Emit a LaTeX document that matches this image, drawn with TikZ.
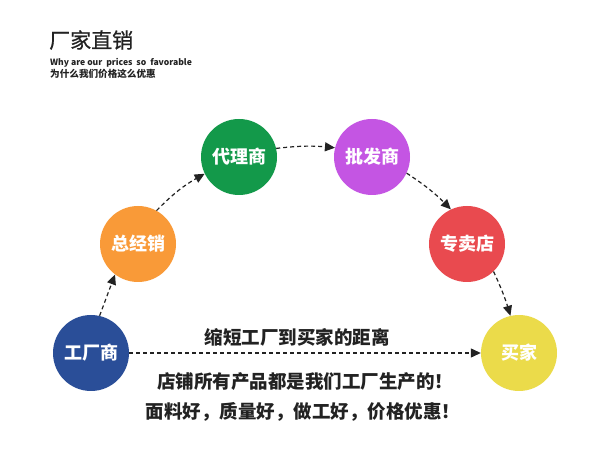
\documentclass[tikz,border=0pt]{standalone}
\usepackage{fontspec}
\usepackage{xcolor}
\usepackage{tikz}
\usetikzlibrary{positioning, arrows.meta, calc}
\setmainfont{Noto Sans CJK SC}
\newfontfamily\cjk{Noto Sans CJK SC}
\newfontfamily\cjktitle{Noto Sans CJK SC}[FakeBold=0.7]

\definecolor{factoryblue}{HTML}{2A4E98}
\definecolor{generalorange}{HTML}{F99A38}
\definecolor{agentgreen}{HTML}{13994A}
\definecolor{wholesalepurple}{HTML}{C455E3}
\definecolor{storered}{HTML}{E94A4F}
\definecolor{buyeryellow}{HTML}{EBDB4A}
\definecolor{inkgray}{HTML}{222222}

\begin{document}
\begin{tikzpicture}[
    x=1pt, y=-1pt,
    station/.style={circle, minimum size=76pt, inner sep=0pt, text=white, font=\cjk\bfseries\fontsize{18}{18}\selectfont},
    flow/.style={dashed, dash pattern=on 4pt off 3pt, line width=1.2pt, draw=inkgray, -{Triangle[length=10pt, width=9pt]}},
    slogan/.style={text=inkgray, font=\cjk\bfseries\fontsize{18.5}{19}\selectfont}
]
    \useasboundingbox[fill=white] (0,0) rectangle (600,454);

    % Heading
    \node[anchor=west, inner sep=0pt, text=inkgray, font=\cjktitle\fontsize{21}{22}\selectfont] (TITLE) at (49,40) {厂家直销};
    \node[anchor=west, inner sep=0pt, text=inkgray, font=\cjk\bfseries\fontsize{8.6}{9}\selectfont] (SUB_EN) at (50,63) {Why are our\ \ prices\ \ so\ \ favorable};
    \node[anchor=west, inner sep=0pt, text=inkgray, font=\cjk\bfseries\fontsize{9.6}{10}\selectfont] (SUB_CN) at (50,74) {为什么我们价格这么优惠};

    % Stations of the chain
    \node[station, fill=factoryblue] (FACTORY) at (91,353) {工厂商};
    \node[station, fill=generalorange] (GENERAL) at (138,244) {总经销};
    \node[station, fill=agentgreen] (AGENT) at (239,157) {代理商};
    \node[station, fill=wholesalepurple] (WHOLESALE) at (372,157) {批发商};
    \node[station, fill=storered] (STORE) at (467,244) {专卖店};
    \node[station, fill=buyeryellow] (BUYER) at (519,353) {买家};

    % Long way round
    \draw[flow] (FACTORY.77) -- (GENERAL.233);
    \draw[flow] (GENERAL.61) to[bend left=8] (AGENT.206);
    \draw[flow] (AGENT.13) to[bend left=6] (WHOLESALE.166);
    \draw[flow] (WHOLESALE.335) to[bend left=6] (STORE.115);
    \draw[flow] (STORE.314) to[bend left=4] (BUYER.103);

    % Direct way
    \draw[flow] (FACTORY) -- (BUYER);

    % Slogans
    \node[slogan] (SHORTEN) at (297,337) {缩短工厂到买家的距离};
    \node[slogan] (OWNMADE) at (305,382) {店铺所有产品都是我们工厂生产的！};
    \node[slogan] (QUALITY) at (303,412) {面料好，质量好，做工好，价格优惠！};

\end{tikzpicture}
\end{document}
